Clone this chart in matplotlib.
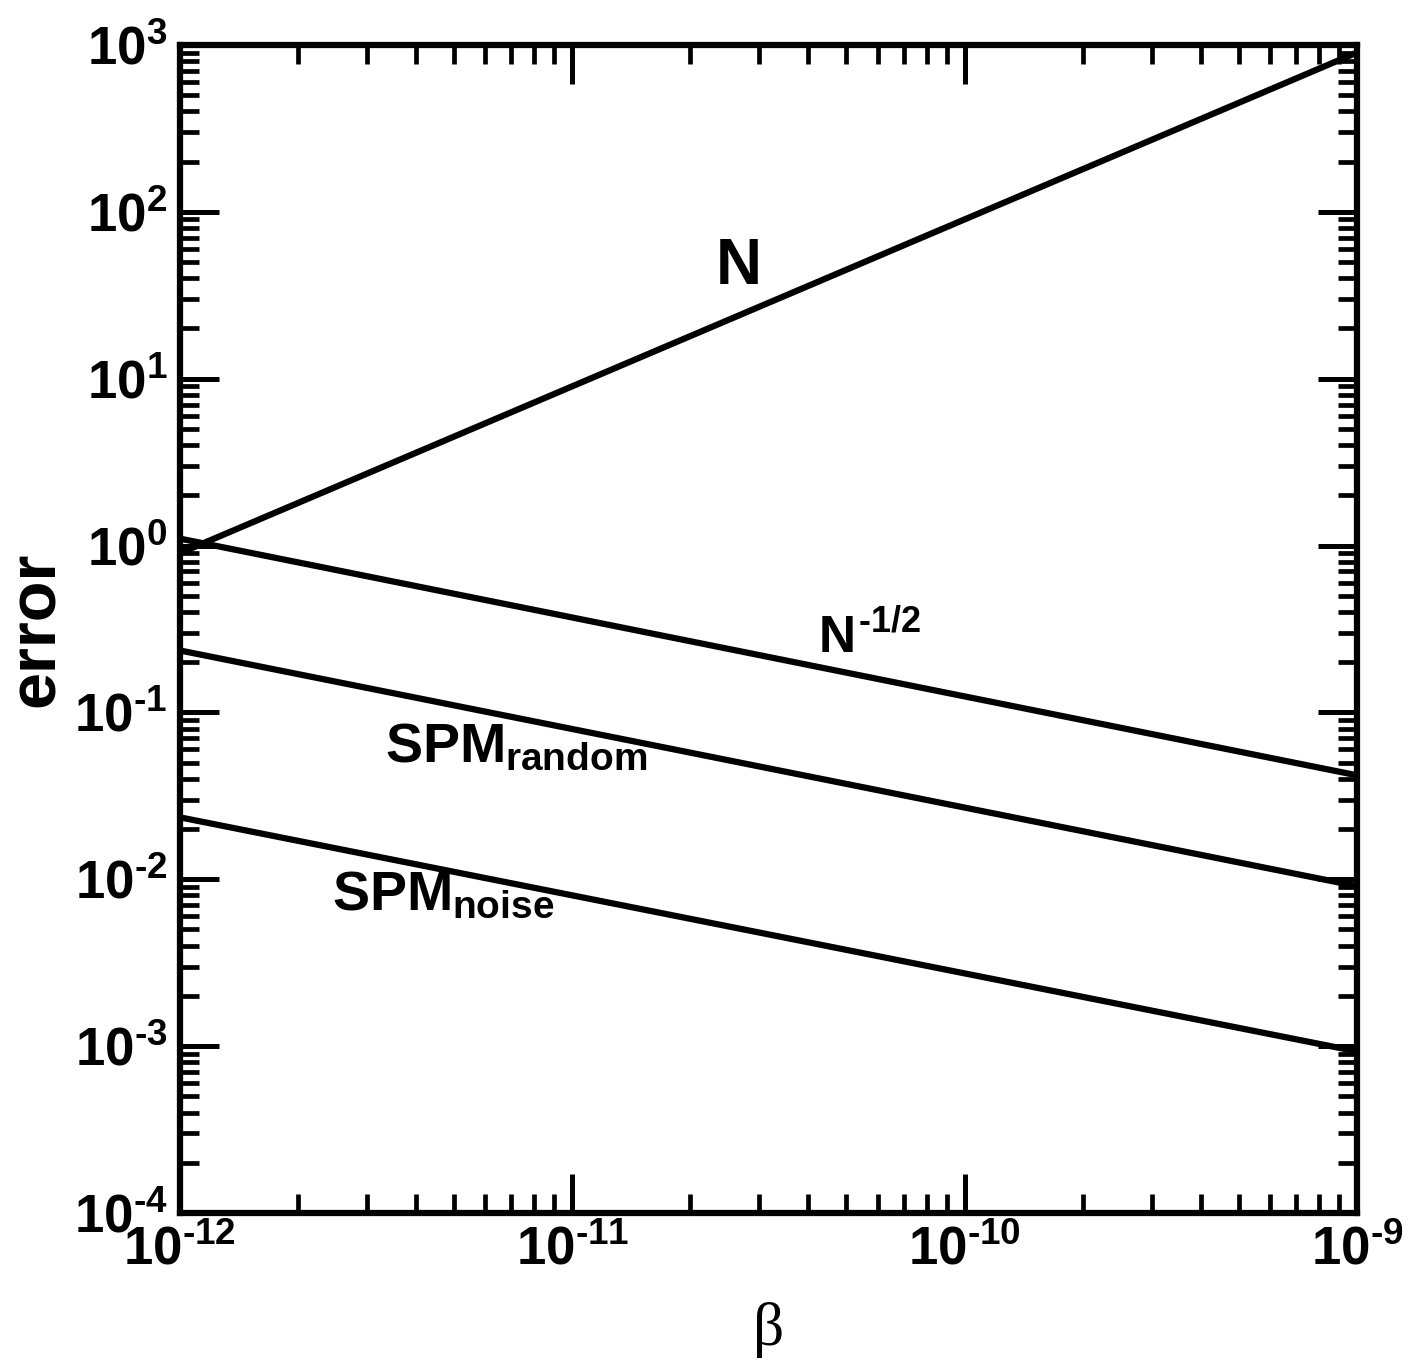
import numpy as np
import matplotlib
matplotlib.use('Agg')
import matplotlib.pyplot as plt
from matplotlib.ticker import LogLocator, FuncFormatter, NullFormatter

# data (log-log straight lines)
beta = [1e-12, 1e-9]
n_total = [0.9, 900.0]
n_inv_sqrt = [1.1, 0.042]
spm_random = [0.235, 0.0091]
spm_noise = [0.0235, 0.00093]

plt.rcParams['font.family'] = 'Liberation Sans'
plt.rcParams['font.weight'] = 'bold'
plt.rcParams['mathtext.fontset'] = 'custom'
plt.rcParams['mathtext.rm'] = 'Liberation Sans:bold'
plt.rcParams['mathtext.it'] = 'Liberation Sans:bold'
plt.rcParams['mathtext.bf'] = 'Liberation Sans:bold'

fig = plt.figure(figsize=(14.18, 13.70), dpi=100)
ax = fig.add_axes([0.1269, 0.1146, 0.8300, 0.8526])

lw = 4.5
for series in (n_total, n_inv_sqrt, spm_random, spm_noise):
    ax.plot(beta, series, color='black', lw=lw, solid_capstyle='butt')

ax.set_xscale('log')
ax.set_yscale('log')
ax.set_xlim(1e-12, 1e-9)
ax.set_ylim(1e-4, 1e3)

def pow10(v, pos):
    e = int(round(np.log10(v)))
    if e < 0:
        return r'$10^{\text{-}%d}$' % (-e)
    return r'$10^{%d}$' % e

for axis in (ax.xaxis, ax.yaxis):
    axis.set_major_locator(LogLocator(base=10, numticks=20))
    axis.set_minor_locator(LogLocator(base=10, subs=np.arange(2, 10), numticks=20))
    axis.set_major_formatter(FuncFormatter(pow10))
    axis.set_minor_formatter(NullFormatter())

ax.tick_params(which='both', direction='in', top=True, right=True, labelsize=38)
ax.tick_params(which='major', length=28, width=3.6, pad=9)
ax.tick_params(which='minor', length=14, width=3.4)
for sp in ax.spines.values():
    sp.set_linewidth(4.5)

ax.set_ylabel('error', fontsize=48, fontweight='bold')
ax.yaxis.set_label_coords(-0.095, 0.5)
ax.set_xlabel('β', fontsize=44, fontweight='normal', family='Liberation Serif')
ax.xaxis.set_label_coords(0.5, -0.076)

# curve labels
ax.text(2.66e-11, 37, 'N', fontsize=46, ha='center', va='baseline')
ax.text(4.23e-11, 0.2275, r'$N^{\text{-}1/2}$', fontsize=37, ha='left', va='baseline')
ax.text(3.33e-12, 0.0499, r'$SPM_{random}$', fontsize=40, ha='left', va='baseline')
ax.text(2.44e-12, 0.00656, r'$SPM_{noise}$', fontsize=40, ha='left', va='baseline')

plt.savefig('out.png', dpi=100)
